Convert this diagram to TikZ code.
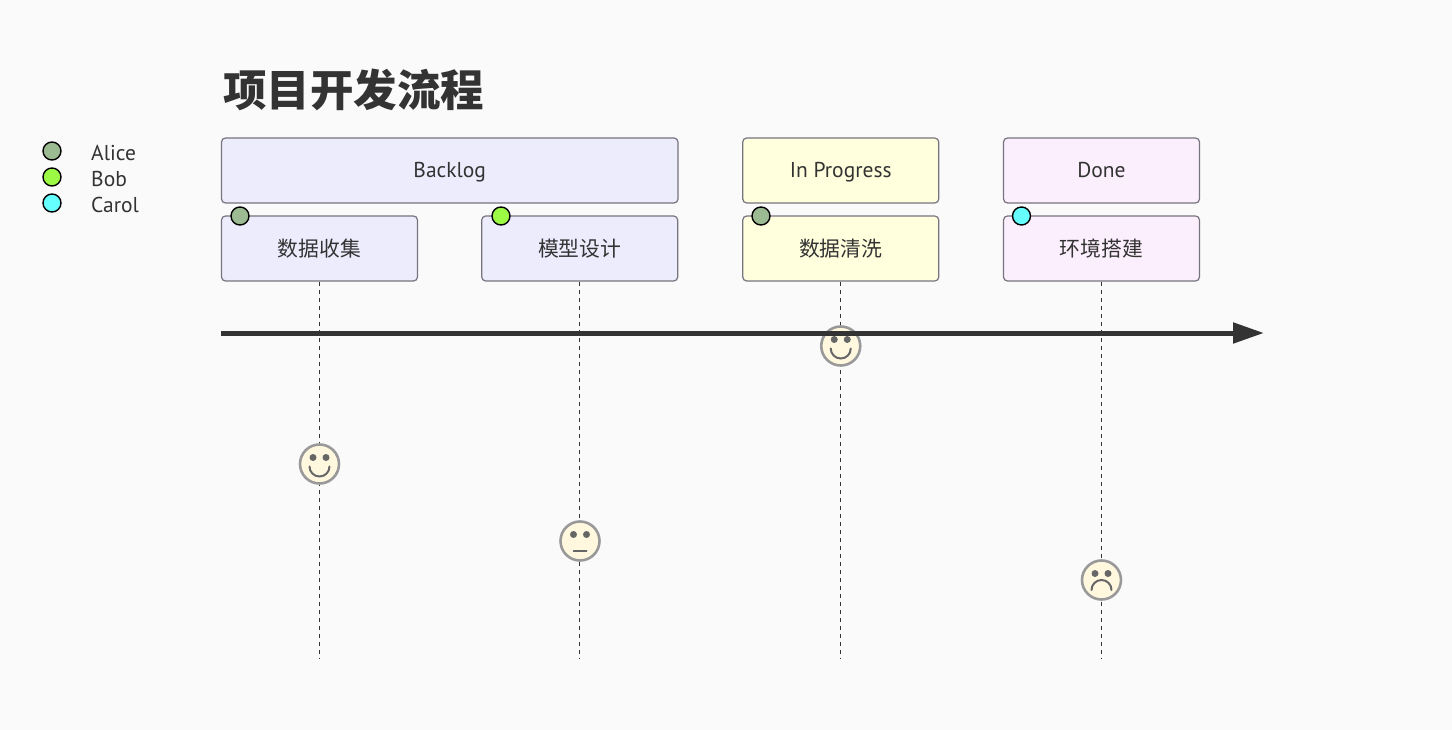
\documentclass[tikz,border=0pt]{standalone}
\usepackage{fontspec}
\setmainfont{PT Sans}
\newfontfamily\cjk{Noto Sans CJK SC}
\usetikzlibrary{arrows.meta,positioning,calc}
\definecolor{bgc}{HTML}{FAFAFA}
\definecolor{txt}{HTML}{333333}
\definecolor{secA}{HTML}{EDECFD}
\definecolor{secB}{HTML}{FFFFDE}
\definecolor{secC}{HTML}{FCEFFD}
\definecolor{edgec}{HTML}{77737F}
\definecolor{faceF}{HTML}{FFF8DF}
\definecolor{faceS}{HTML}{999999}
\definecolor{eyec}{HTML}{666666}
\definecolor{pA}{HTML}{9DBB92}
\definecolor{pB}{HTML}{9CFA44}
\definecolor{pC}{HTML}{66FFFF}
\tikzset{
  x=1pt,y=-1pt,
  box/.style={draw=edgec,line width=1.2pt,rounded corners=4pt,minimum height=65pt,inner sep=0pt,text=txt,text height=17pt,text depth=2pt,font=\fontsize{21.5}{25}\selectfont},
  ctext/.style={font=\cjk\fontsize{20.8}{25}\selectfont,text height=18pt,text depth=1pt},
  person/.style={circle,draw=black,line width=1.4pt,minimum size=18pt,inner sep=0pt},
  legendtext/.style={anchor=base west,inner sep=0pt,text=txt,font=\fontsize{21.5}{25}\selectfont},
  drop/.style={draw=txt,line width=1.3pt,dash pattern=on 4.5pt off 3.5pt},
  face/.style={circle,draw=faceS,fill=faceF,line width=2.6pt,minimum size=39pt,inner sep=0pt},
  eye/.style={fill=eyec},
  mouth/.style={draw=eyec,line width=2pt,line cap=round},
  axisline/.style={draw=txt,line width=5pt,-{Triangle[length=31pt,width=20pt,fill=txt]}},
}
\newcommand{\eyes}[1]{%
  \fill[eye] ($(#1)+(-6.5,-6.5)$) circle (3.5);
  \fill[eye] ($(#1)+(6.5,-6.5)$) circle (3.5);}
\begin{document}
\begin{tikzpicture}
\useasboundingbox[fill=bgc] (0,0) rectangle (1452,730);
\node[anchor=west,inner sep=0pt,text=txt,font=\cjk\bfseries\fontsize{43.5}{50}\selectfont] (title) at (223,90) {项目开发流程};

\node[box,fill=secA,minimum width=456.5pt] (backlog) at (449.75,170.5) {Backlog};
\node[box,fill=secB,minimum width=196pt] (inprog) at (840.75,170.5) {In Progress};
\node[box,fill=secC,minimum width=196pt] (done) at (1101.5,170.5) {Done};

\node[box,ctext,fill=secA,minimum width=196pt] (t1) at (319.5,248.5) {数据收集};
\node[box,ctext,fill=secA,minimum width=196pt] (t2) at (579.7,248.5) {模型设计};
\node[box,ctext,fill=secB,minimum width=196pt] (t3) at (840.75,248.5) {数据清洗};
\node[box,ctext,fill=secC,minimum width=196pt] (t4) at (1101.5,248.5) {环境搭建};

\node[person,fill=pA] (d1) at (240,216) {};
\node[person,fill=pB] (d2) at (501,216) {};
\node[person,fill=pA] (d3) at (761,216) {};
\node[person,fill=pC] (d4) at (1021.5,216) {};

\node[person,fill=pA] (l1) at (52,151) {};
\node[person,fill=pB] (l2) at (52,177) {};
\node[person,fill=pC] (l3) at (52,203) {};
\node[legendtext] (n1) at (91,161) {Alice};
\node[legendtext] (n2) at (91,187) {Bob};
\node[legendtext] (n3) at (91,213) {Carol};

\coordinate (e1) at (319.5,658);
\coordinate (e2) at (579.7,658);
\coordinate (e3) at (840.75,658);
\coordinate (e4) at (1101.5,658);
\draw[drop] (t1.south) -- (e1);
\draw[drop] (t2.south) -- (e2);
\draw[drop] (t3.south) -- (e3);
\draw[drop] (t4.south) -- (e4);

\node[face] (f1) at (319.5,464) {};
\node[face] (f2) at (580,541) {};
\node[face] (f3) at (840.75,346) {};
\node[face] (f4) at (1101.5,580) {};

\eyes{f1}\eyes{f2}\eyes{f3}\eyes{f4}
\draw[mouth] ($(f1)+(-10,2.5)$) arc[start angle=180,end angle=0,radius=10];
\draw[mouth] ($(f3)+(-10,2.5)$) arc[start angle=180,end angle=0,radius=10];
\draw[mouth] ($(f2)+(-6.5,9.5)$) -- ($(f2)+(6.5,9.5)$);
\draw[mouth] ($(f4)+(-10,10)$) arc[start angle=180,end angle=360,radius=10];

\coordinate (a0) at (221,333);
\coordinate (a1) at (1264,333);
\draw[axisline] (a0) -- (a1);
\end{tikzpicture}
\end{document}
